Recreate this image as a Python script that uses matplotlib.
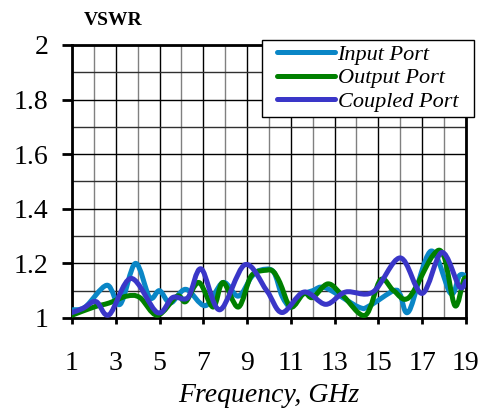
import matplotlib.pyplot as plt
import numpy as np
from matplotlib.path import Path
from matplotlib.patches import PathPatch, Rectangle
from matplotlib.lines import Line2D
from matplotlib.ticker import MultipleLocator

plt.rcParams["font.family"] = ["Liberation Serif", "DejaVu Serif"]

input_freq = [1.0, 1.6, 2.6, 3.2, 3.9, 4.55, 5.0, 5.5, 6.2, 7.1, 7.9, 8.6, 9.2, 9.6, 10.2, 10.6, 11.0, 11.4, 12.0, 12.6, 14.1, 14.6, 15.7, 16.0, 16.4, 17.4, 18.3, 18.7, 19.0]
input_vswr = [1.03, 1.04, 1.12, 1.05, 1.2, 1.075, 1.1, 1.055, 1.105, 1.045, 1.13, 1.08, 1.15, 1.175, 1.17, 1.08, 1.04, 1.08, 1.1, 1.11, 1.04, 1.045, 1.1, 1.085, 1.025, 1.245, 1.09, 1.155, 1.155]

output_freq = [1.0, 2.0, 2.7, 3.5, 4.1, 4.9, 5.8, 6.2, 6.8, 7.45, 7.9, 8.6, 9.2, 9.9, 10.2, 10.5, 11.0, 11.6, 12.0, 12.7, 13.4, 14.4, 15.1, 15.7, 16.4, 17.5, 18.0, 18.5, 18.9, 19.0]
output_vswr = [1.01, 1.04, 1.055, 1.08, 1.075, 1.01, 1.08, 1.06, 1.13, 1.04, 1.13, 1.04, 1.155, 1.175, 1.17, 1.13, 1.04, 1.09, 1.075, 1.125, 1.08, 1.01, 1.14, 1.1, 1.075, 1.23, 1.225, 1.045, 1.14, 1.14]

coupled_freq = [1.0, 1.5, 2.1, 2.7, 3.7, 4.9, 5.6, 6.3, 6.9, 7.75, 8.9, 9.9, 10.6, 11.6, 12.6, 13.5, 14.75, 16.0, 17.0, 17.9, 18.7, 19.0]
coupled_vswr = [1.02, 1.035, 1.06, 1.012, 1.145, 1.02, 1.075, 1.075, 1.18, 1.03, 1.195, 1.1, 1.02, 1.095, 1.05, 1.095, 1.095, 1.22, 1.09, 1.24, 1.115, 1.135]

x_ticks = [1, 3, 5, 7, 9, 11, 13, 15, 17, 19]
y_ticks = [1, 1.2, 1.4, 1.6, 1.8, 2]
y_tick_labels = ["1", "1.2", "1.4", "1.6", "1.8", "2"]

series = [
    ("Input Port", input_freq, input_vswr, "#0a86c6"),
    ("Output Port", output_freq, output_vswr, "#008000"),
    ("Coupled Port", coupled_freq, coupled_vswr, "#3a36c8"),
]


def smooth_path(x, y):
    pts = np.column_stack([x, y])
    ext = np.vstack([pts[0], pts, pts[-1]])
    verts = [pts[0]]
    codes = [Path.MOVETO]
    for i in range(len(pts) - 1):
        p0, p1, p2, p3 = ext[i], ext[i + 1], ext[i + 2], ext[i + 3]
        verts += [p1 + (p2 - p0) / 6, p2 - (p3 - p1) / 6, p2]
        codes += [Path.CURVE4] * 3
    return Path(verts, codes)


fig = plt.figure(figsize=(4.93, 4.16), dpi=100)
ax = fig.add_axes([0.146, 0.2356, 0.799, 0.6564])

handles = []
for name, fx, fy, color in series:
    ax.add_patch(PathPatch(smooth_path(fx, fy), fill=False, edgecolor=color,
                           lw=3.6, capstyle="round", joinstyle="round", zorder=3))
    handles.append(Line2D([], [], color=color, lw=3.6, solid_capstyle="round", label=name))

ax.set_xlim(1, 19)
ax.set_ylim(1, 2)
ax.set_xticks(x_ticks)
ax.set_xticklabels([str(t) for t in x_ticks])
ax.xaxis.set_minor_locator(MultipleLocator(1))
ax.set_yticks(y_ticks)
ax.set_yticklabels(y_tick_labels)
ax.yaxis.set_minor_locator(MultipleLocator(0.1))
ax.grid(which="major", color="black", lw=1.0, zorder=1)
ax.grid(which="minor", axis="x", color="#808080", lw=1.0, zorder=1)
ax.grid(which="minor", axis="y", color="#303030", lw=1.0, zorder=1)
ax.tick_params(axis="y", which="major", length=7, width=2, pad=10, labelsize=20)
ax.tick_params(axis="y", which="minor", length=0)
ax.tick_params(axis="x", which="major", length=4, width=2, pad=20, labelsize=20)
ax.tick_params(axis="x", which="minor", length=0)
for spine in ax.spines.values():
    spine.set_linewidth(2)

ax.set_xlabel("Frequency, GHz", fontsize=20, style="italic", labelpad=5)
fig.text(0.229, 0.95, "VSWR", fontsize=14, weight="bold", ha="center", va="center")

# legend box drawn separately so its padding can match the reference
fig.patches.append(Rectangle((0.531, 0.719), 0.430, 0.185, transform=fig.transFigure,
                             facecolor="white", edgecolor="black", lw=1.0, zorder=4))
leg = fig.legend(handles=handles, loc="upper left", bbox_to_anchor=(0.562, 0.893),
                 prop={"style": "italic", "size": 16}, frameon=False,
                 borderpad=0, labelspacing=0.12,
                 handlelength=2.6, handletextpad=0.12, borderaxespad=0)
leg.set_zorder(5)

fig.savefig("out.png", dpi=100)
